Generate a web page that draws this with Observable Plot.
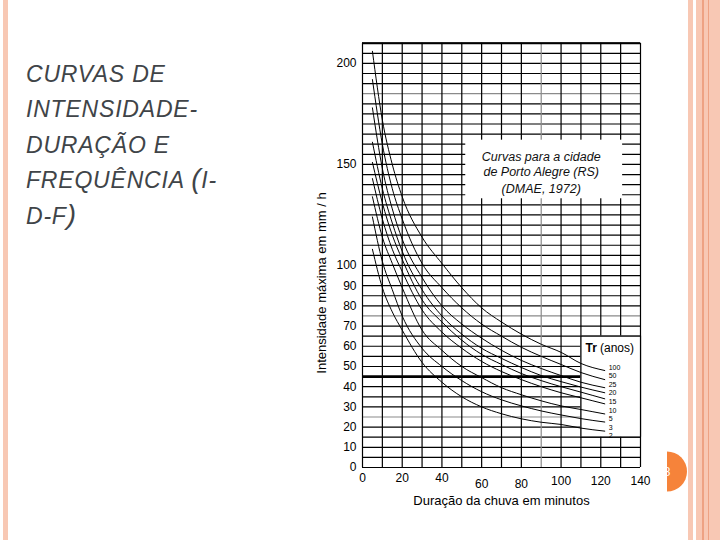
<!DOCTYPE html>
<html>
<head>
<meta charset="utf-8">
<script src="https://cdn.jsdelivr.net/npm/d3@7"></script>
<script src="https://cdn.jsdelivr.net/npm/@observablehq/plot@0.6"></script>
<style>
  html, body { margin: 0; padding: 0; background: #fff; }
  #page { position: relative; width: 720px; height: 540px; overflow: hidden; background: #fff; }
  .abs { position: absolute; }
  #chart { position: absolute; left: 300px; top: 20px; }
</style>
</head>
<body>
<div id="page">
  <div class="abs" style="left:3px;top:0;width:5px;height:540px;background:#f8c8b4"></div>
  <div class="abs" style="left:688px;top:0;width:5px;height:540px;background:#f8c8b4"></div>
  <div class="abs" style="left:696px;top:0;width:24px;height:540px;background:#f8c8b4"></div>
  <div class="abs" style="left:702px;top:0;width:1.5px;height:540px;background:#eea283"></div>
  <div class="abs" style="left:708.3px;top:0;width:1px;height:540px;background:#eea283"></div>
  <svg class="abs" style="left:0;top:0" width="300" height="260">
    <g font-family="Liberation Sans, Arial, sans-serif" font-style="italic" font-size="23" fill="#404448" letter-spacing="0.8">
      <text x="26" y="81.7">CURVAS DE</text>
      <text x="26" y="116.7">INTENSIDADE-</text>
      <text x="26" y="153.3">DURAÇÃO E</text>
      <text x="26" y="188.3">FREQUÊNCIA <tspan font-size="28">(</tspan>I-</text>
      <text x="26" y="224">D-F<tspan font-size="28">)</tspan></text>
    </g>
  </svg>
  <div id="chart"></div>
  <svg class="abs" style="left:640px;top:440px" width="50" height="60">
    <path d="M27,11.5 A20,20 0 0 1 27,51.5 Z" fill="#f6833a"/>
    <text x="27" y="36" font-family="Liberation Sans, Arial" font-size="12" fill="#fff" text-anchor="middle">8</text>
  </svg>
</div>
<script>
// Durations (minutes) at which the curves were read
const durations = [5, 10, 15, 20, 30, 40, 50, 60, 70, 80, 90, 100, 110, 122];
// Maximum intensity (mm/h) for each return period Tr (years)
const tr100 = [206, 172, 150, 134, 114, 101, 89, 79, 72, 66, 61, 57, 51.5, 48];
const tr50  = [192, 160, 138, 123, 101, 89, 79, 71, 65, 59.5, 55, 51, 47, 43.5];
const tr25  = [178, 148, 128, 113, 94, 80, 71, 64, 58, 53, 49, 45.5, 42.2, 39.5];
const tr20  = [161, 138, 121, 107, 88, 75, 66, 59, 54, 49.5, 45.5, 42.5, 39.8, 37];
const tr15  = [151, 131, 115, 103, 83, 72, 63, 56, 51, 46.5, 43, 40, 37.3, 34];
const tr10  = [143, 123, 108, 97, 78, 67, 59, 52.5, 47.5, 43.5, 40, 37, 34.5, 31.5];
const tr5   = [134, 114, 101, 89, 68, 58, 50, 44.5, 39.5, 36, 33, 30.5, 28.7, 26.5];
const tr3   = [124, 102, 88, 75, 59, 50, 43, 37.5, 33.5, 30.5, 28, 26, 24.2, 22.5];
const tr2   = [108, 89, 77, 68, 52, 42.2, 35, 30, 26.6, 24.1, 22.4, 21.3, 19.5, 18];
const returnPeriods = ["100", "50", "25", "20", "15", "10", "5", "3", "2"];
const seriesList = [tr100, tr50, tr25, tr20, tr15, tr10, tr5, tr3, tr2];
const yTicks = [0, 10, 20, 30, 40, 50, 60, 70, 80, 90, 100, 150, 200];
const xTicksA = [0, 20, 40];
const xTicksB = [60, 80];
const xTicksC = [100, 120, 140];

const curves = returnPeriods.flatMap((tr, i) =>
  seriesList[i].map((v, j) => ({tr, t: durations[j], v})));

const hGrid = d3.range(0, 211, 5);
const grayH = new Set([25, 75, 185]);
const vGrid = d3.range(0, 141, 10);
const font = "Liberation Sans, Arial, sans-serif";

const chart = Plot.plot({
  width: 360,
  height: 500,
  marginLeft: 62,
  marginRight: 20,
  marginTop: 22.7,
  marginBottom: 53,
  x: {domain: [0, 140]},
  y: {domain: [0, 210]},
  style: {fontFamily: font, fontSize: "12px", background: "none", color: "#000", overflow: "visible"},
  marks: [
    Plot.ruleY(hGrid, {stroke: d => grayH.has(d) ? "#8a8a8a" : "#000", strokeWidth: 1.2}),
    Plot.ruleX(vGrid, {stroke: d => d === 90 ? "#8a8a8a" : "#000", strokeWidth: 1.2}),
    Plot.ruleY([210], {stroke: "#000", strokeWidth: 2}),
    Plot.ruleY([45], {x1: 0, x2: 110, stroke: "#000", strokeWidth: 2.6}),
    // annotation box
    Plot.rect([0], {x1: 52, x2: 131, y1: 133, y2: 162, fill: "#fff"}),
    Plot.text(["Curvas para a cidade", "de Porto Alegre (RS)", "(DMAE, 1972)"], {
      x: 90, y: [153.6, 146.2, 137.6], text: d => d,
      fontStyle: "italic", fontSize: 12.5, fill: "#111", textAnchor: "middle"
    }),
    // legend box
    Plot.rect([0], {x1: 110, x2: 140, y1: 15, y2: 65, fill: "#fff"}),
    Plot.ruleX([110, 140], {y1: 15, y2: 65, stroke: "#000", strokeWidth: 1.2}),
    Plot.ruleY([15, 65], {x1: 110, x2: 140, stroke: "#000", strokeWidth: 1.2}),
    Plot.line(curves, {x: "t", y: "v", z: "tr", curve: "monotone-x", stroke: "#000", strokeWidth: 1}),
    Plot.text(returnPeriods, {
      x: 124, y: (d, i) => 49.5 - i * 4.25, text: d => d,
      textAnchor: "start", fontSize: 7, fill: "#000"
    }),
    Plot.text(["Tr"], {x: 112.3, y: 59.2, text: d => d, textAnchor: "start", fontSize: 12, fontWeight: "bold", fill: "#000"}),
    Plot.text(["(anos)"], {x: 119.6, y: 59.2, text: d => d, textAnchor: "start", fontSize: 12, fill: "#000"}),
    Plot.axisY(yTicks, {label: null, tickSize: 0, tickPadding: 6, fontSize: 12}),
    Plot.axisX(xTicksA, {label: null, tickSize: 0, tickPadding: 6, fontSize: 12}),
    Plot.axisX(xTicksB, {label: null, tickSize: 0, tickPadding: 12, fontSize: 12}),
    Plot.axisX(xTicksC, {label: null, tickSize: 0, tickPadding: 9, fontSize: 12}),
    Plot.text(["Duração da chuva em minutos"], {x: 70, y: -16.5, text: d => d, fontSize: 13, fill: "#000"}),
    Plot.text(["Intensidade máxima em mm / h"], {x: -20.5, y: 91.3, text: d => d, rotate: -90, fontSize: 13, fill: "#000", letterSpacing: 0.4})
  ]
});
document.getElementById("chart").appendChild(chart);
</script>
</body>
</html>
